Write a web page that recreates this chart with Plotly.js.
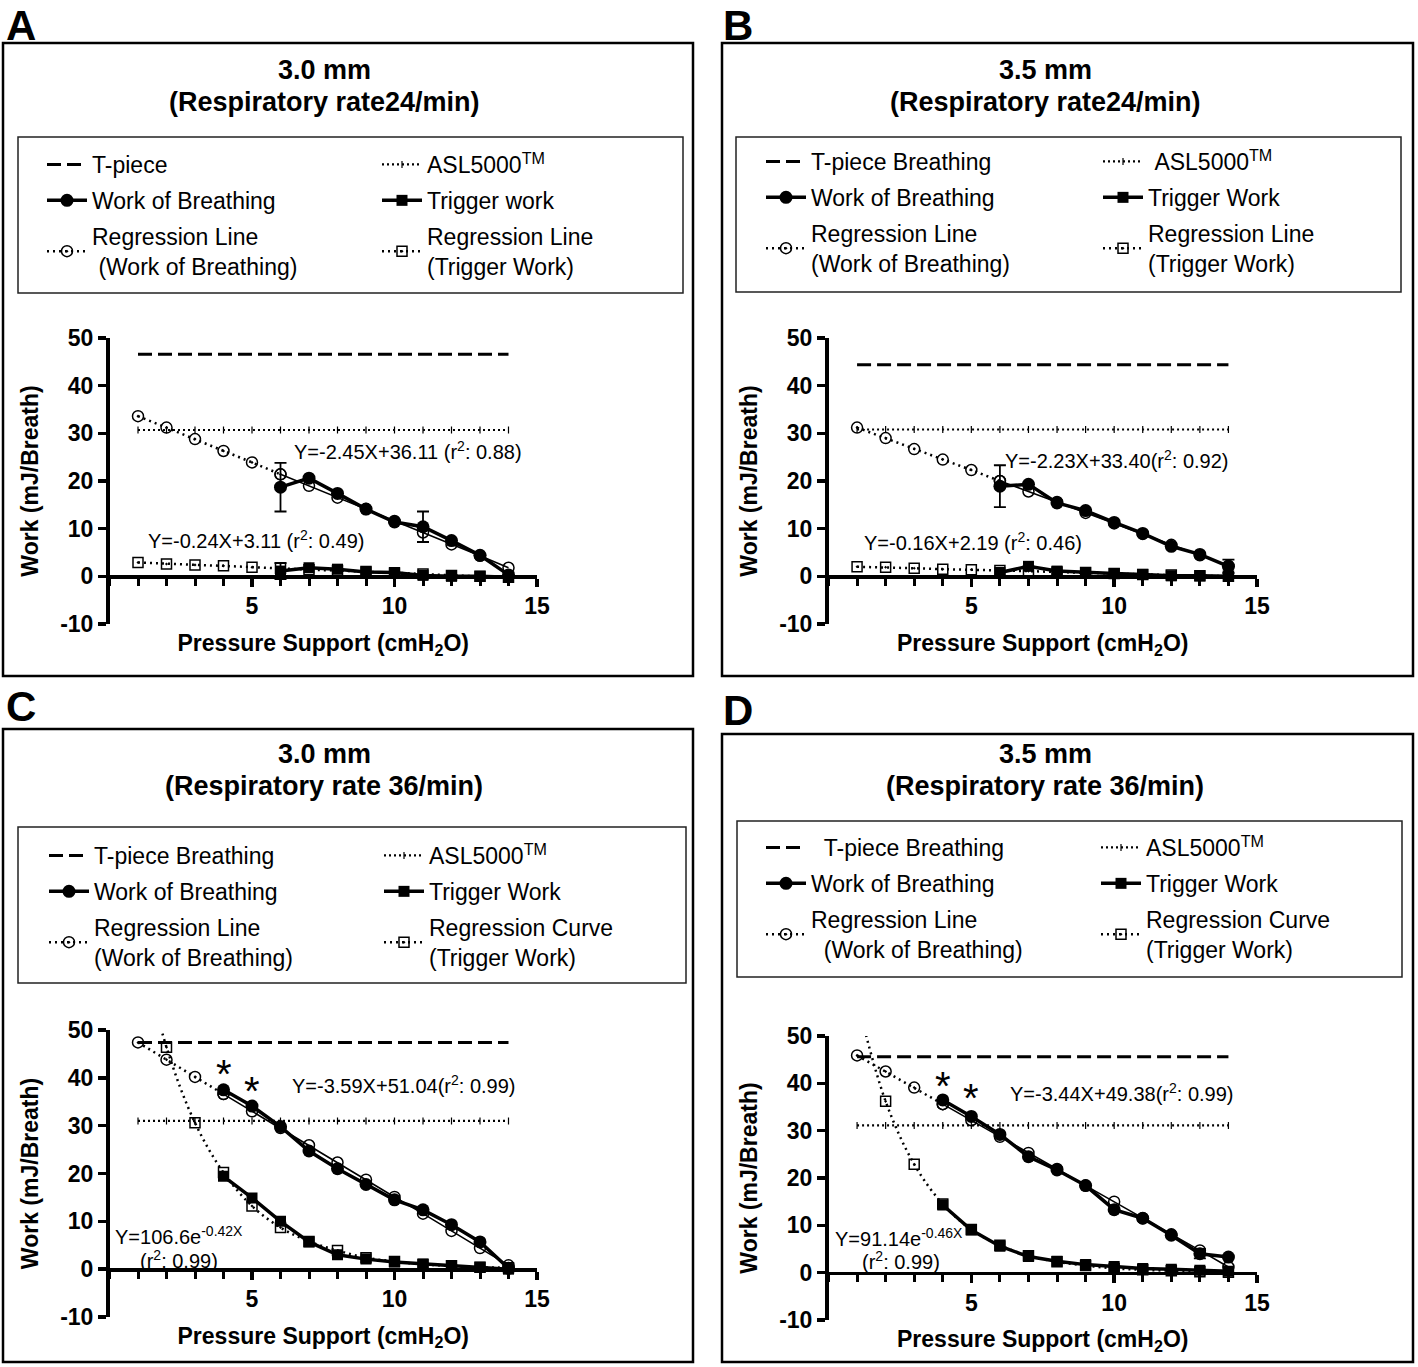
<!DOCTYPE html>
<html><head><meta charset="utf-8">
<script src="https://cdn.plot.ly/plotly-3.0.1.min.js"></script>
<style>html,body{margin:0;padding:0;background:#fff}</style>
</head><body>
<div id="chart" style="width:1418px;height:1367px"></div>
<script>
const W = 1418, H = 1367;
const FONT = '"Liberation Sans", Arial, sans-serif';

// ---------- data ----------
const pressure   = [1,2,3,4,5,6,7,8,9,10,11,12,13,14];
const measuredAB = [6,7,8,9,10,11,12,13,14];
const measuredCD = [4,5,6,7,8,9,10,11,12,13,14];

const xTickVals   = [5, 10, 15];
const yTickVals   = [-10, 0, 10, 20, 30, 40, 50];
const yTickLabels = ['-10', '0', '10', '20', '30', '40', '50'];

const tpiece = [46.6, 44.4, 47.4, 45.6];
const asl    = [30.7, 30.8, 31.0, 31.1];

const wobA     = [18.7, 20.6, 17.4, 14.1, 11.4, 10.4, 7.5, 4.4, 0.3];
const wobErrA  = [5.1, null, null, null, null, 3.2, null, null, null];
const trigA    = [1.1, 1.8, 1.5, 0.9, 0.8, 0.2, 0.0, 0.0, -0.2];
const trigErrA = [1.7, null, null, null, null, null, null, null, null];
const regWobA  = [33.6, 31.2, 28.8, 26.3, 23.9, 21.4, 19.0, 16.5, 14.1, 11.6, 9.2, 6.7, 4.3, 1.8];
const regTrigA = [2.9, 2.6, 2.4, 2.2, 1.9, 1.7, 1.4, 1.2, 1.0, 0.7, 0.5, 0.2, 0.0, -0.2];

const wobB     = [18.9, 19.3, 15.4, 13.8, 11.3, 9.0, 6.3, 4.6, 2.1];
const wobErrB  = [4.4, null, null, null, null, null, null, null, 1.4];
const trigB    = [0.8, 2.1, 1.1, 0.8, 0.6, 0.4, 0.1, 0.1, 0.0];
const trigErrB = [null, null, null, null, null, null, null, null, null];
const regWobB  = [31.2, 29.0, 26.7, 24.5, 22.3, 20.0, 17.8, 15.6, 13.3, 11.1, 8.9, 6.6, 4.4, 2.2];
const regTrigB = [2.0, 1.9, 1.7, 1.5, 1.4, 1.2, 1.1, 0.9, 0.8, 0.6, 0.4, 0.3, 0.1, 0.0];

const wobC     = [37.5, 34.1, 29.8, 24.7, 21.0, 17.7, 14.5, 12.4, 9.3, 5.7, 0.2];
const wobErrC  = [null, null, null, null, null, null, null, null, null, null, null];
const trigC    = [19.4, 14.9, 10.0, 5.7, 3.0, 2.1, 1.5, 1.1, 0.7, 0.4, 0.0];
const trigErrC = [null, null, null, null, null, null, null, null, null, null, null];
const regWobC  = [47.4, 43.8, 40.2, 36.6, 33.0, 29.5, 25.9, 22.3, 18.7, 15.1, 11.6, 8.0, 4.4, 0.8];
const regTrigC = [70.0, 46.4, 30.6, 20.2, 13.2, 8.7, 5.8, 3.9, 2.4, 1.6, 1.0, 0.7, 0.4, 0.3];

const wobD     = [36.5, 33.0, 29.2, 24.5, 21.7, 18.4, 13.3, 11.5, 7.9, 4.0, 3.3];
const wobErrD  = [null, null, null, null, null, null, null, null, null, 1.0, null];
const trigD    = [14.3, 9.0, 5.6, 3.4, 2.4, 1.7, 1.3, 0.9, 0.7, 0.5, 0.3];
const trigErrD = [null, null, null, null, null, null, null, null, null, null, null];
const regWobD  = [45.9, 42.5, 39.1, 35.6, 32.2, 28.7, 25.3, 21.9, 18.4, 15.0, 11.5, 8.1, 4.7, 1.2];
const regTrigD = [57.6, 36.2, 22.9, 14.5, 9.1, 5.8, 3.6, 2.3, 1.5, 0.9, 0.6, 0.4, 0.2, 0.1];

const panelLetters = ['A', 'B', 'C', 'D'];
const titleLine1 = ['3.0 mm', '3.5 mm', '3.0 mm', '3.5 mm'];
const titleLine2 = ['(Respiratory rate24/min)', '(Respiratory rate24/min)', '(Respiratory rate 36/min)', '(Respiratory rate 36/min)'];
const NB = '\u00a0';
const legendText = [
  {tp:'T-piece', asl:'ASL5000<sup>TM</sup>', wob:'Work of Breathing', trig:'Trigger work',
   rw:'Regression Line<br>' + NB + '(Work of Breathing)', rt:'Regression Line<br>(Trigger Work)'},
  {tp:'T-piece Breathing', asl:NB + 'ASL5000<sup>TM</sup>', wob:'Work of Breathing', trig:'Trigger Work',
   rw:'Regression Line<br>(Work of Breathing)', rt:'Regression Line<br>(Trigger Work)'},
  {tp:'T-piece Breathing', asl:'ASL5000<sup>TM</sup>', wob:'Work of Breathing', trig:'Trigger Work',
   rw:'Regression Line<br>(Work of Breathing)', rt:'Regression Curve<br>(Trigger Work)'},
  {tp:NB + NB + 'T-piece Breathing', asl:'ASL5000<sup>TM</sup>', wob:'Work of Breathing', trig:'Trigger Work',
   rw:'Regression Line<br>' + NB + NB + '(Work of Breathing)', rt:'Regression Curve<br>(Trigger Work)'}
];
const equations = [
  [{x:6.4, y:26.4, t:'Y=-2.45X+36.11 (r<sup>2</sup>: 0.88)'}, {x:1.28, y:7.7, t:'Y=-0.24X+3.11 (r<sup>2</sup>: 0.49)'}],
  [{x:6.1, y:24.5, t:'Y=-2.23X+33.40(r<sup>2</sup>: 0.92)'}, {x:1.17, y:7.3, t:'Y=-0.16X+2.19 (r<sup>2</sup>: 0.46)'}],
  [{x:6.33, y:38.7, t:'Y=-3.59X+51.04(r<sup>2</sup>: 0.99)'}, {x:0.12, y:7.1, t:'Y=106.6e<sup>-0.42X</sup>'}, {x:1.0, y:2.1, t:'(r<sup>2</sup>: 0.99)'}],
  [{x:6.27, y:38.0, t:'Y=-3.44X+49.38(r<sup>2</sup>: 0.99)'}, {x:0.16, y:7.4, t:'Y=91.14e<sup>-0.46X</sup>'}, {x:1.1, y:2.5, t:'(r<sup>2</sup>: 0.99)'}]
];
const asterisks = [[], [], [{x:4, y:42.5}, {x:5, y:39.0}], [{x:4, y:41.1}, {x:5, y:38.6}]];

// ---------- layout geometry (pixels) ----------
const geo = [
  {axL:109.5, axR:537,  y50:338,  yM10:624,  box:[3,43,693,676],    leg:[18,137,683,293], lx:[42,377],   ly:143, letter:[21,26],  tx:324,  ty:[70,102]},
  {axL:828.5, axR:1257, y50:338,  yM10:624,  box:[722,43,1413,676], leg:[736,137,1401,292], lx:[761,1098], ly:140, letter:[738,26], tx:1045, ty:[70,102]},
  {axL:109.5, axR:537,  y50:1030, yM10:1317, box:[3,729,693,1362],  leg:[18,827,686,983], lx:[44,379],   ly:834, letter:[21,706], tx:324,  ty:[754,786]},
  {axL:828.5, axR:1257, y50:1036, yM10:1320, box:[722,734,1413,1362], leg:[737,821,1402,977], lx:[761,1096], ly:826, letter:[738,710], tx:1045, ty:[754,786]}
];
const px = v => v / W;
const py = v => 1 - v / H;

const panelData = [
  {meas:measuredAB, wob:wobA, wobErr:wobErrA, trig:trigA, trigErr:trigErrA, rw:regWobA, rt:regTrigA, curve:false},
  {meas:measuredAB, wob:wobB, wobErr:wobErrB, trig:trigB, trigErr:trigErrB, rw:regWobB, rt:regTrigB, curve:false},
  {meas:measuredCD, wob:wobC, wobErr:wobErrC, trig:trigC, trigErr:trigErrC, rw:regWobC, rt:regTrigC, curve:true},
  {meas:measuredCD, wob:wobD, wobErr:wobErrD, trig:trigD, trigErr:trigErrD, rw:regWobD, rt:regTrigD, curve:true}
];

const traces = [];
const layout = {
  width: W, height: H,
  margin: {l:0, r:0, t:0, b:0},
  paper_bgcolor: '#ffffff', plot_bgcolor: 'rgba(0,0,0,0)',
  font: {family: FONT, color: '#000'},
  showlegend: true,
  shapes: [], annotations: []
};
const errArr = a => a.map(v => v == null ? NaN : v);

panelData.forEach((d, i) => {
  const g = geo[i];
  const sfx = i === 0 ? '' : String(i + 1);
  const xa = 'x' + sfx, ya = 'y' + sfx;
  const lg1 = i === 0 ? 'legend' : 'legend' + (2 * i + 1);
  const lg2 = 'legend' + (2 * i + 2);
  const lt = legendText[i];
  const first = d.meas[0];

  traces.push({type:'scatter', xaxis:xa, yaxis:ya, x:pressure, y:pressure.map(() => tpiece[i]),
    mode:'lines', name:lt.tp, legend:lg1, legendrank:1, legendgroup:'tp'+i,
    line:{color:'#000', width:3, dash:'14px,6px'}});
  traces.push({type:'scatter', xaxis:xa, yaxis:ya, x:pressure, y:pressure.map(() => asl[i]),
    mode:'lines+markers', name:lt.asl, legend:lg2, legendrank:1, legendgroup:'asl'+i,
    line:{color:'#000', width:2.2, dash:'2px,3px'},
    marker:{symbol:'line-ns-open', size:5, color:'#000', line:{color:'#000', width:1.2}}});
  traces.push({type:'scatter', xaxis:xa, yaxis:ya, x:pressure, y:d.rt,
    mode:'lines+markers', name:lt.rt, legend:lg2, legendrank:3, legendgroup:'rt'+i,
    line:{color:'#000', width:2.5, dash:'2px,4px', shape: d.curve ? 'spline' : 'linear'},
    marker:{symbol:'square-open-dot', size:10, color:'#000', line:{color:'#000', width:1.5}}});
  // regression line (WOB): dotted where extrapolated, thin solid where it overlays the data
  const rwX1 = pressure.filter(x => x <= first), rwY1 = d.rw.filter((v, k) => pressure[k] <= first);
  const rwX2 = pressure.filter(x => x >= first), rwY2 = d.rw.filter((v, k) => pressure[k] >= first);
  traces.push({type:'scatter', xaxis:xa, yaxis:ya, x:rwX1, y:rwY1,
    mode:'lines+markers', name:lt.rw, legend:lg1, legendrank:3, legendgroup:'rw'+i,
    line:{color:'#000', width:2.5, dash:'2px,4px'},
    marker:{symbol:'circle-open-dot', size:11, color:'#000', line:{color:'#000', width:1.5}}});
  traces.push({type:'scatter', xaxis:xa, yaxis:ya, x:rwX2, y:rwY2,
    mode:'lines+markers', showlegend:false, legendgroup:'rw'+i, legend:lg1,
    line:{color:'#000', width:1.6},
    marker:{symbol:'circle-open', size:11, color:'#000', line:{color:'#000', width:1.5}}});
  traces.push({type:'scatter', xaxis:xa, yaxis:ya, x:d.meas, y:d.trig,
    mode:'lines+markers', name:lt.trig, legend:lg2, legendrank:2, legendgroup:'tr'+i,
    line:{color:'#000', width:3.5},
    marker:{symbol:'square', size:11, color:'#000'},
    error_y:{type:'data', array:errArr(d.trigErr), visible:true, color:'#000', thickness:1.8, width:6}});
  traces.push({type:'scatter', xaxis:xa, yaxis:ya, x:d.meas, y:d.wob,
    mode:'lines+markers', name:lt.wob, legend:lg1, legendrank:2, legendgroup:'wb'+i,
    line:{color:'#000', width:3.5},
    marker:{symbol:'circle', size:13, color:'#000'},
    error_y:{type:'data', array:errArr(d.wobErr), visible:true, color:'#000', thickness:1.8, width:6}});

  const yDom = [py(g.yM10), py(g.y50)];
  const yZeroPos = yDom[0] + (0 - (-10)) / 60 * (yDom[1] - yDom[0]);
  layout['xaxis' + sfx] = {
    domain:[px(g.axL), px(g.axR)], anchor:'free', position:yZeroPos,
    range:[0, 15], tickvals:xTickVals, ticks:'outside', ticklen:8, tickwidth:3.5, tickcolor:'#000',
    showline:true, linewidth:3.5, linecolor:'#000', showgrid:false, zeroline:false, fixedrange:true,
    tickfont:{family:FONT, size:23, weight:'bold', color:'#000'},
    minor:{dtick:1, tick0:0, ticks:'outside', ticklen:7, tickwidth:3, tickcolor:'#000', showgrid:false},
    title:{text:'Pressure Support (cmH<sub>2</sub>O)', font:{family:FONT, size:23, weight:'bold', color:'#000'}, standoff:16}
  };
  layout['yaxis' + sfx] = {
    domain:yDom, anchor:xa,
    range:[-10, 50], tickvals:yTickVals, ticktext:yTickLabels, ticks:'outside', ticklen:8, tickwidth:3.5, tickcolor:'#000',
    showline:true, linewidth:3.5, linecolor:'#000', showgrid:false, zeroline:false, fixedrange:true,
    tickfont:{family:FONT, size:23, weight:'bold', color:'#000'},
    title:{text:'Work (mJ/Breath)', font:{family:FONT, size:23, weight:'bold', color:'#000'}, standoff:16}
  };

  // legends (two columns)
  [lg1, lg2].forEach((name, c) => {
    layout[name] = {
      x:px(g.lx[c]), y:py(g.ly), xanchor:'left', yanchor:'top', xref:'paper', yref:'paper',
      orientation:'v', traceorder:'grouped', tracegroupgap:3, itemwidth:40,
      bgcolor:'rgba(0,0,0,0)', borderwidth:0,
      font:{family:FONT, size:23, color:'#000'}, itemclick:false, itemdoubleclick:false
    };
  });

  // boxes
  layout.shapes.push({type:'rect', xref:'paper', yref:'paper', x0:px(g.box[0]), x1:px(g.box[2]), y0:py(g.box[3]), y1:py(g.box[1]),
    line:{color:'#000', width:2.5}});
  layout.shapes.push({type:'rect', xref:'paper', yref:'paper', x0:px(g.leg[0]), x1:px(g.leg[2]), y0:py(g.leg[3]), y1:py(g.leg[1]),
    line:{color:'#222', width:1.5}});

  // letter and titles
  layout.annotations.push({xref:'paper', yref:'paper', x:px(g.letter[0]), y:py(g.letter[1]), text:panelLetters[i],
    showarrow:false, xanchor:'center', yanchor:'middle', font:{family:FONT, size:42, weight:'bold', color:'#000'}});
  layout.annotations.push({xref:'paper', yref:'paper', x:px(g.tx), y:py(g.ty[0]), text:titleLine1[i],
    showarrow:false, xanchor:'center', yanchor:'middle', font:{family:FONT, size:27, weight:'bold', color:'#000'}});
  layout.annotations.push({xref:'paper', yref:'paper', x:px(g.tx), y:py(g.ty[1]), text:titleLine2[i],
    showarrow:false, xanchor:'center', yanchor:'middle', font:{family:FONT, size:27, weight:'bold', color:'#000'}});

  equations[i].forEach(e => layout.annotations.push({xref:xa, yref:ya, x:e.x, y:e.y, text:e.t, showarrow:false,
    xanchor:'left', yanchor:'middle', font:{family:FONT, size:20, color:'#000'}}));
  asterisks[i].forEach(a => layout.annotations.push({xref:xa, yref:ya, x:a.x, y:a.y, text:'*', showarrow:false,
    xanchor:'center', yanchor:'middle', yshift:-8, font:{family:FONT, size:40, color:'#000'}}));
});

Plotly.newPlot('chart', traces, layout, {displayModeBar:false, staticPlot:true});
</script>
</body></html>
